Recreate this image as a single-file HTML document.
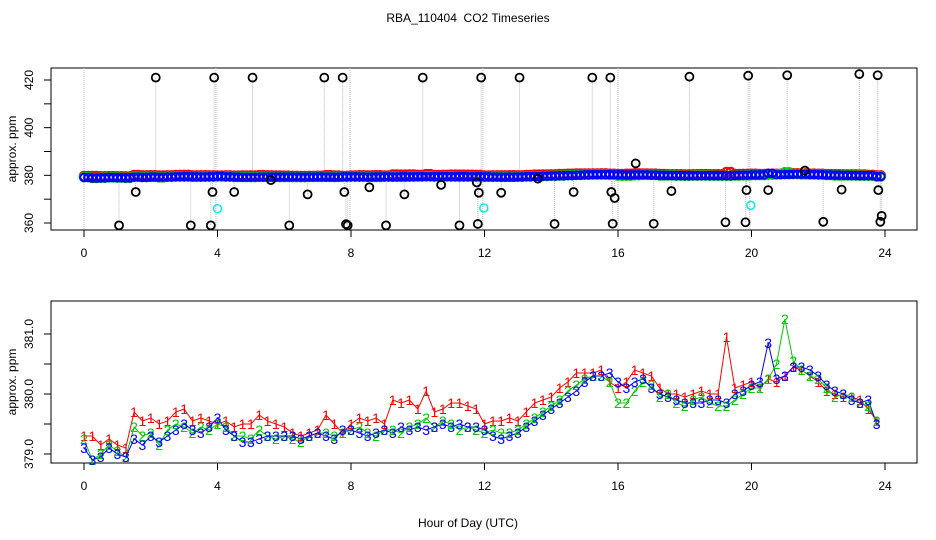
<!DOCTYPE html>
<html><head><meta charset="utf-8"><style>
body{margin:0;background:#fff}
svg{display:block;font-family:"Liberation Sans",sans-serif}
</style></head><body>
<svg id="chart" width="936" height="540" viewBox="0 0 936 540" xmlns="http://www.w3.org/2000/svg">
<rect width="936" height="540" fill="#fff"/>
<text x="468" y="22" text-anchor="middle" font-size="12">RBA_110404&#160; CO2 Timeseries</text>
<g id="topPanel"></g>
<g id="botPanel"></g>
<text x="468" y="527" text-anchor="middle" font-size="12">Hour of Day (UTC)</text>
</svg>
<script>
const series1 = [379.3,379.3,379.15,379.25,379.15,379.1,379.7,379.55,379.6,379.5,379.55,379.7,379.75,379.55,379.6,379.55,
379.5,379.55,379.45,379.5,379.5,379.65,379.55,379.5,379.45,379.35,379.3,379.35,379.4,379.65,379.5,379.35,
379.5,379.6,379.55,379.6,379.5,379.9,379.85,379.9,379.75,380.05,379.7,379.75,379.85,379.85,379.8,379.75,
379.5,379.55,379.55,379.6,379.55,379.7,379.85,379.9,379.95,380.1,380.2,380.35,380.35,380.35,380.4,380.2,
380.1,380.2,380.4,380.35,380.3,380.1,380.0,380.0,379.95,380.0,380.05,380.0,380.0,380.95,380.1,380.15,
380.2,380.1,380.25,380.2,380.3,380.45,380.4,380.3,380.2,380.05,380.0,379.95,379.95,379.9,379.75,379.55];
const series2 = [379.25,378.9,379.0,379.15,379.05,378.95,379.45,379.3,379.35,379.15,379.4,379.5,379.45,379.35,379.45,379.4,
379.5,379.45,379.3,379.3,379.25,379.4,379.3,379.25,379.3,379.25,379.2,379.3,379.35,379.35,379.3,379.35,
379.4,379.45,379.35,379.3,379.4,379.4,379.35,379.45,379.5,379.6,379.45,379.55,379.5,379.4,379.45,379.4,
379.35,379.4,379.35,379.35,379.4,379.5,379.6,379.7,379.8,379.9,380.05,380.15,380.25,380.3,380.3,380.2,
379.85,379.85,380.05,380.2,380.15,379.95,380.0,379.85,379.8,379.9,379.95,379.85,379.8,379.8,379.9,380.0,
380.1,380.1,380.25,380.5,381.25,380.55,380.4,380.3,380.25,380.1,379.95,380.0,379.95,379.85,379.8,379.55];
const series3 = [379.1,378.9,378.95,379.1,379.0,378.95,379.25,379.15,379.3,379.2,379.3,379.4,379.5,379.4,379.35,379.45,
379.6,379.4,379.3,379.2,379.2,379.25,379.3,379.3,379.3,379.3,379.25,379.3,379.35,379.3,379.25,379.4,
379.4,379.35,379.3,379.35,379.4,379.35,379.45,379.4,379.45,379.4,379.45,379.5,379.45,379.5,379.45,379.45,
379.4,379.3,379.25,379.3,379.35,379.45,379.55,379.65,379.75,379.85,379.95,380.05,380.2,380.3,380.3,380.35,
380.2,380.1,380.2,380.25,380.1,380.0,379.95,379.9,379.85,379.85,379.85,379.9,379.9,379.85,380.0,380.05,
380.15,380.2,380.85,380.25,380.3,380.45,380.45,380.4,380.3,380.15,380.05,380.0,379.9,379.85,379.9,379.5];
const outlierHours = [1.05,1.55,2.15,3.2,3.8,3.85,3.9,4.5,5.05,5.6,6.15,6.7,7.2,7.75,7.8,7.9,7.85,8.55,9.05,9.6,10.15,10.7,11.25,
11.9,11.8,11.77,11.83,12.5,13.05,13.6,14.1,14.67,15.23,15.77,15.8,15.9,15.84,16.53,17.07,17.6,18.14,19.22,19.82,19.85,19.9,20.5,21.07,21.6,22.15,22.7,23.23,23.78,23.8,23.9,23.86];
const outlierValues = [359,373,421,359,359,373,421,373,421,378,359,372,421,421,373,359,359.5,375,359,372,421,376,359,
421,359.6,377,372.7,372.7,421,378.6,359.6,373,421,421,373,370.5,359.7,385,359.7,373.4,421.4,360.3,360.3,373.8,421.8,373.8,422,382,360.5,374,422.5,422,373.8,363,360.5];
const cyanHours = [4.0,11.98,19.98];
const cyanValues = [366,366.3,367.4];
const boundaryHours = [0,3.95,7.97,11.95,16.0,19.95];
const topTicks = [360,370,380,390,400,410,420];
const topTickLabels = ["360","","380","","400","","420"];
const botTicks = [379.0,379.5,380.0,380.5,381.0];
const botTickLabels = ["379.0","","380.0","","381.0"];
const xTicks = [0,4,8,12,16,20,24];

const NS="http://www.w3.org/2000/svg";
const hours=[]; for(let i=0;i<series1.length;i++) hours.push(i*0.25);
const X=h=>84+h*(885-84)/24;
const Yt=v=>80+(420-v)*(223-80)/60;
const Yb=v=>394-(v-380)*60;
function mk(p,tag,attrs){const e=document.createElementNS(NS,tag);for(const k in attrs)e.setAttribute(k,attrs[k]);p.appendChild(e);return e;}
const topG=document.getElementById('topPanel'), botG=document.getElementById('botPanel');

function axes(g,y0,y1,Y,ticks,labels,prefix){
  const box=mk(g,'rect',{x:51,y:y0,width:866,height:y1-y0,fill:'none',stroke:'#000','stroke-width':1});
  
  
  xTicks.forEach(h=>{
    const t=mk(g,'line',{x1:X(h),x2:X(h),y1:y1,y2:y1+7,stroke:'#000'});
    
    
    const l=mk(g,'text',{x:X(h),y:y1+27,'text-anchor':'middle','font-size':12});
    l.textContent=h;
    
    
  });
  ticks.forEach((v,i)=>{
    const t=mk(g,'line',{x1:44,x2:51,y1:Y(v),y2:Y(v),stroke:'#000'});
    
    
    if(labels[i]){
      const l=mk(g,'text',{x:0,y:0,'text-anchor':'middle','font-size':12,transform:`translate(33,${Y(v)}) rotate(-90)`});
      l.textContent=labels[i];
      
      
    }
  });
  const yl=mk(g,'text',{x:0,y:0,'text-anchor':'middle','font-size':12,transform:`translate(16,${(y0+y1)/2}) rotate(-90)`});
  yl.textContent='approx. ppm';
  
  
}
axes(topG,68,230,Yt,topTicks,topTickLabels,'top');
axes(botG,301,463,Yb,botTicks,botTickLabels,'bottom');

boundaryHours.forEach(h=>{
  const l=mk(topG,'line',{x1:X(h),x2:X(h),y1:68,y2:230,stroke:'#bbb','stroke-dasharray':'1,1'});
  
  
});
outlierHours.forEach((h,i)=>{
  const l=mk(topG,'line',{x1:X(h),x2:X(h),y1:Yt(outlierValues[i]),y2:Yt(380),stroke:'#bbb','stroke-dasharray':'1,1'});
  
  
});
[[series1,'#f00'],[series2,'#0c0'],[series3,'#00f']].forEach(([s,c],k)=>{
  s.forEach((v,i)=>{
    [0,0.125].forEach(off=>{
      const p=mk(topG,'circle',{cx:X(hours[i]+off),cy:Yt(v)+(k===0?-1:0),r:k===2?3.8:4.3,fill:'none',stroke:c,'stroke-width':2});
      
      
    });
  });
});
outlierHours.forEach((h,i)=>{
  const p=mk(topG,'circle',{cx:X(h),cy:Yt(outlierValues[i]),r:4,fill:'none',stroke:'#000','stroke-width':1.8});
  
  
});
cyanHours.forEach((h,i)=>{
  const p=mk(topG,'circle',{cx:X(h),cy:Yt(cyanValues[i]),r:4,fill:'none',stroke:'#0ee','stroke-width':1.5});
  
  
});

[[series1,'#f00','1'],[series2,'#0c0','2'],[series3,'#00f','3']].forEach(([s,c,lab])=>{
  const pts=s.map((v,i)=>X(hours[i]).toFixed(1)+','+Yb(v).toFixed(1)).join(' ');
  const pl=mk(botG,'polyline',{points:pts,fill:'none',stroke:c,'stroke-width':1});
  
  
});
[[series1,'#f00','1'],[series2,'#0c0','2'],[series3,'#00f','3']].forEach(([s,c,lab])=>{
  s.forEach((v,i)=>{
    const t=mk(botG,'text',{x:X(hours[i]),y:Yb(v)+5,'text-anchor':'middle','font-size':14,fill:c});
    t.textContent=lab;
    
    
  });
});
</script>
</body></html>
